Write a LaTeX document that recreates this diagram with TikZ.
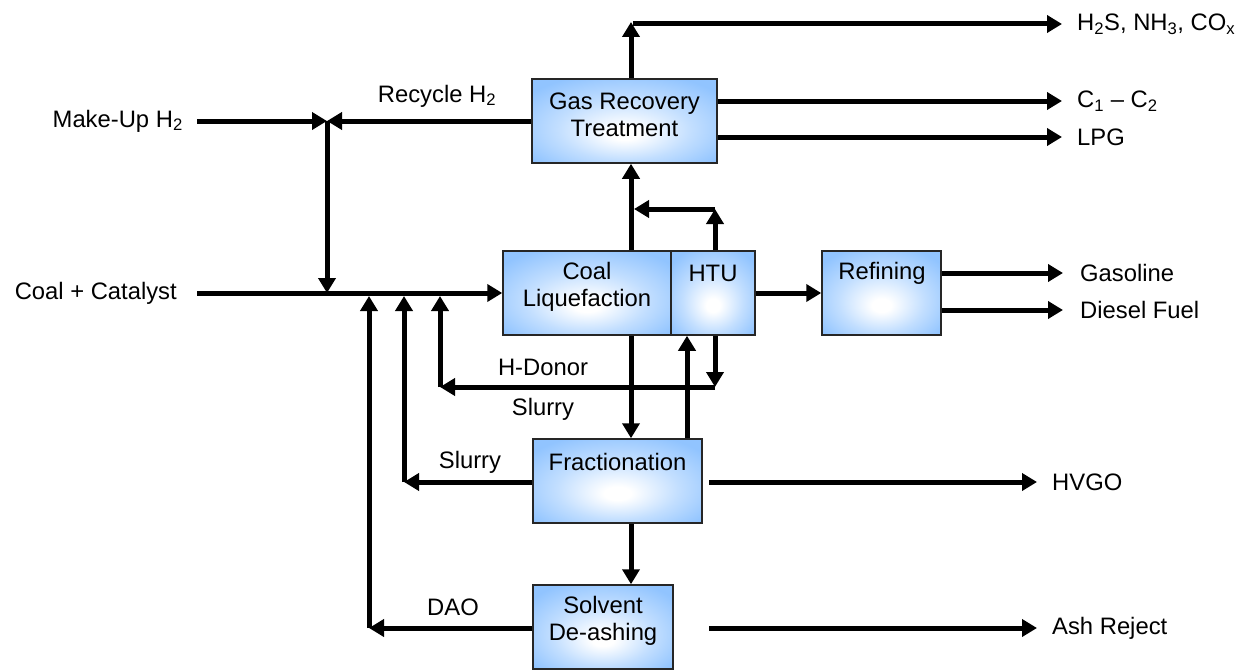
\documentclass[tikz,border=0pt]{standalone}
\usepackage{fontspec}
\setmainfont{Liberation Sans}
\usetikzlibrary{arrows.meta}
\definecolor{boxblue}{RGB}{145,196,255}
\pgfdeclareradialshading{boxglow}{\pgfpoint{0bp}{-8bp}}{color(0bp)=(white); color(4bp)=(white); color(18bp)=(boxblue!55); color(32bp)=(boxblue); color(50bp)=(boxblue)}
\tikzset{
  unit/.style={draw=black!85, line width=1.5pt, shading=boxglow, rectangle, inner sep=0pt},
  arr/.style={line width=5pt, -{Triangle[length=15pt,width=17pt]}},
  ln/.style={line width=5pt},
  lab/.style={inner sep=0pt, font=\fontsize{23.8}{27}\selectfont},
  boxtxt/.style={lab, align=center},
}
\begin{document}
\begin{tikzpicture}[x=1pt,y=-1pt]
\useasboundingbox (0,0) rectangle (1241,669);
% boxes
\node[unit, minimum width=185pt, minimum height=84pt] (gas) at (624.5,121) {};
\node[unit, minimum width=168pt, minimum height=84pt] (coal) at (587,293) {};
\node[unit, minimum width=84pt, minimum height=84pt] (htu) at (713,293) {};
\node[unit, minimum width=119pt, minimum height=84pt] (ref) at (881.5,293) {};
\node[unit, minimum width=169pt, minimum height=84pt] (frac) at (617.5,481) {};
\node[unit, minimum width=140pt, minimum height=84pt] (solv) at (603,627) {};
% box texts
\node[boxtxt] (gast) at (624.5,115) {Gas Recovery\\Treatment};
\node[boxtxt] (coalt) at (587,287) {Coal\\Liquefaction};
\node[boxtxt] (htut) at (713,273) {HTU};
\node[boxtxt] (reft) at (882,273) {Refining};
\node[boxtxt] (fract) at (617.5,462) {Fractionation};
\node[boxtxt] (solvt) at (603,621) {Solvent\\De-ashing};
% coordinates
\coordinate (mu) at (197,121);
\coordinate (j1) at (327,121);
\coordinate (cc) at (197,293);
\coordinate (j2) at (327,293);
\coordinate (top) at (631,22);
\coordinate (topr) at (633,24);
\coordinate (h2s) at (1062,24);
\coordinate (c12) at (1062,101);
\coordinate (lpg) at (1062,137);
\coordinate (ht) at (715,209);
\coordinate (htl) at (634,209);
\coordinate (hd) at (715,387);
\coordinate (hdl) at (440,387);
\coordinate (hdu) at (440,296);
\coordinate (sl) at (404,482);
\coordinate (slu) at (404,296);
\coordinate (da) at (369,628);
\coordinate (dau) at (369,296);
\coordinate (hvs) at (709,482);
\coordinate (hve) at (1037,482);
\coordinate (ashs) at (709,628);
\coordinate (ashe) at (1037,628);
\coordinate (gaso) at (1063,273);
\coordinate (dies) at (1063,310);
% connectors
\draw[arr] (mu) -- (j1);
\draw[arr] (gas.west) -- (j1);
\draw[arr] (j1) -- (j2);
\draw[arr] (cc) -- (coal.west);
\draw[arr] (gas.north -| top) -- (top);
\draw[arr] (topr) -- (h2s);
\draw[arr] (gas.east |- c12) -- (c12);
\draw[arr] (gas.east |- lpg) -- (lpg);
\draw[arr] (coal.north -| top) -- (gas.south -| top);
\draw[arr] (htu.north -| ht) -- (ht);
\draw[arr] (ht) -- (htl);
\draw[arr] (coal.south -| top) -- (frac.north -| top);
\draw[arr] (htu.south -| hd) -- (hd);
\draw[arr] (hd) -- (hdl);
\draw[arr] (hdl) -- (hdu);
\draw[arr] (frac.north -| 687,0) -- (htu.south -| 687,0);
\draw[arr] (frac.west |- sl) -- (sl);
\draw[arr] (sl) -- (slu);
\draw[arr] (hvs) -- (hve);
\draw[arr] (frac.south -| top) -- (solv.north -| top);
\draw[arr] (solv.west |- da) -- (da);
\draw[arr] (da) -- (dau);
\draw[arr] (ashs) -- (ashe);
\draw[arr] (htu.east) -- (ref.west);
\draw[arr] (ref.east |- gaso) -- (gaso);
\draw[arr] (ref.east |- dies) -- (dies);
% labels
\node[lab, anchor=east] (lmu) at (183,121) {Make-Up H\textsubscript{2}};
\node[lab, anchor=east] (lcc) at (177,293) {Coal + Catalyst};
\node[lab] (lrec) at (437,96) {Recycle H\textsubscript{2}};
\node[lab, anchor=west] (lh2s) at (1077,24) {H\textsubscript{2}S, NH\textsubscript{3}, CO\textsubscript{x}};
\node[lab, anchor=west] (lc12) at (1077,101) {C\textsubscript{1} -- C\textsubscript{2}};
\node[lab, anchor=west] (llpg) at (1077,137) {LPG};
\node[lab, anchor=west] (lgas) at (1080,273) {Gasoline};
\node[lab, anchor=west] (ldie) at (1080,310) {Diesel Fuel};
\node[lab, anchor=west] (lhv) at (1052,482) {HVGO};
\node[lab, anchor=west] (lash) at (1052,628) {Ash Reject};
\node[lab] (lhd) at (543,367) {H-Donor};
\node[lab] (lsl1) at (543,409) {Slurry};
\node[lab] (lsl2) at (470,462) {Slurry};
\node[lab] (ldao) at (453,607) {DAO};
\end{tikzpicture}
\end{document}
